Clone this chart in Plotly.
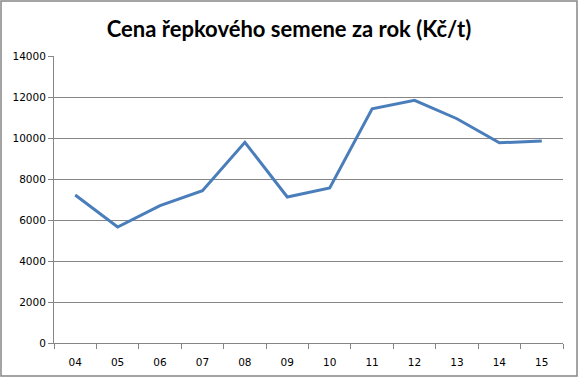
import plotly.graph_objects as go

years = ["04", "05", "06", "07", "08", "09", "10", "11", "12", "13", "14", "15"]
prices = [7220, 5660, 6700, 7430, 9790, 7120, 7560, 11420, 11840, 10940, 9770, 9850]
y_ticks = [0, 2000, 4000, 6000, 8000, 10000, 12000, 14000]
title_text = "Cena řepkového semene za rok (Kč/t)"

fig = go.Figure()
fig.add_trace(go.Scatter(
    x=years, y=prices, mode="lines",
    line=dict(color="#4A7EBB", width=3),
    showlegend=False, hoverinfo="x+y",
))

axis_col = "#868686"
fig.update_layout(
    width=579, height=378,
    margin=dict(l=54, r=16, t=56, b=35),
    paper_bgcolor="white", plot_bgcolor="white",
    title=dict(text=title_text, x=289 / 579, xanchor="center", y=1 - 29 / 378, yanchor="middle",
               font=dict(family="Lato", size=22, color="black", weight="bold")),
    xaxis=dict(
        type="category", range=[-0.5, 11.5],
        showline=True, linecolor=axis_col, linewidth=1,
        ticks="outside", tickson="boundaries", ticklen=5, tickcolor=axis_col,
        showgrid=False, automargin=False, ticklabelstandoff=9,
        tickfont=dict(family="DejaVu Sans", size=10.5, color="black"),
    ),
    yaxis=dict(
        range=[0, 14000], tickvals=y_ticks, ticktext=[str(v) for v in y_ticks],
        showline=True, linecolor=axis_col, linewidth=1,
        ticks="outside", ticklen=5, tickcolor=axis_col,
        showgrid=True, gridcolor=axis_col, gridwidth=1,
        zeroline=False, automargin=False,
        tickfont=dict(family="DejaVu Sans", size=10.5, color="black"),
    ),
)

# chart outer border
pw, ph = 579 - 54 - 16, 378 - 56 - 35
fig.add_shape(type="rect", xref="paper", yref="paper",
              x0=(1 - 54) / pw, x1=(577 - 54) / pw,
              y0=(343 - 376) / ph, y1=(343 - 1) / ph,
              line=dict(color=axis_col, width=1.5), layer="below")

fig.write_html("out.html", config={"displayModeBar": False},
               post_script="document.body.style.margin='0';")
